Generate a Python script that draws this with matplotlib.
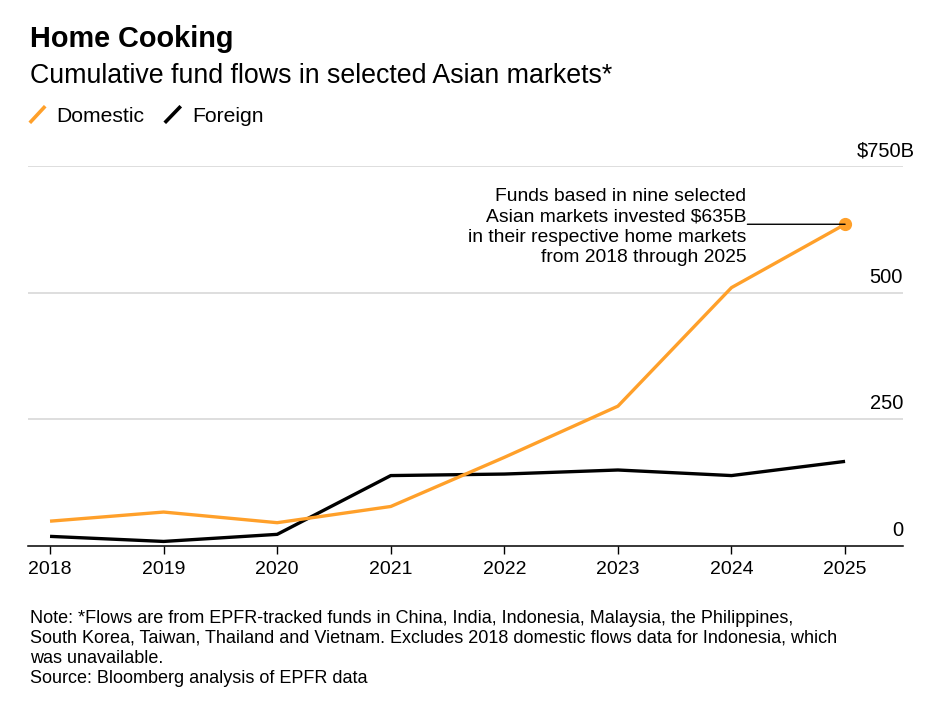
import matplotlib
matplotlib.use("Agg")
import matplotlib.pyplot as plt
from matplotlib.lines import Line2D

plt.rcParams['font.family'] = ['Liberation Sans', 'DejaVu Sans']

years = [2018, 2019, 2020, 2021, 2022, 2023, 2024, 2025]
domestic = [49, 67, 46, 78, 175, 276, 510, 635]
foreign = [19, 9, 23, 139, 142, 150, 139, 167]
y_ticks = [0, 250, 500, 750]
y_labels = ["0", "250", "500", "$750B"]

ORANGE = "#FFA02A"
W, H = 936, 728
fig = plt.figure(figsize=(W / 100, H / 100), dpi=100)
fig.patch.set_facecolor("white")

ax = fig.add_axes([28 / W, 1 - 546 / H, 875 / W, (546 - 166) / H])
ax.set_xlim(2017.806, 2025.51)
ax.set_ylim(0, 750)

for v in y_ticks[1:]:
    ax.axhline(v, color="#d4d4d4", lw=1.1, zorder=1)

ax.plot(years, foreign, color="black", lw=2.4, zorder=3, solid_capstyle="butt")
ax.plot(years, domestic, color=ORANGE, lw=2.4, zorder=4, solid_capstyle="butt")
ax.plot([years[-1]], [domestic[-1]], "o", color=ORANGE, ms=8.5, zorder=5)

for s in ["top", "right", "left"]:
    ax.spines[s].set_visible(False)
ax.spines["bottom"].set_color("black")
ax.spines["bottom"].set_linewidth(1.1)
ax.spines["bottom"].set_zorder(2)

ax.set_xticks(years)
ax.set_xticklabels([str(y) for y in years])
ax.tick_params(axis="x", length=6, width=1, color="black", pad=4.5,
               labelsize=14, labelcolor="black")
ax.set_yticks([])

for v, lab in zip(y_ticks, y_labels):
    dx = 8.5 if lab.startswith("$") else 0
    ax.annotate(lab, xy=(1, v), xycoords=ax.get_yaxis_transform(),
                xytext=(dx, 7.2), textcoords="offset points",
                ha="right", va="baseline", fontsize=14.5, color="black")

# annotation text and connector
ax.annotate("Funds based in nine selected\nAsian markets invested $635B\n"
            "in their respective home markets\nfrom 2018 through 2025",
            xy=(2024.13, domestic[-1] - 6), ha="right", va="center",
            fontsize=13.9, linespacing=1.26, zorder=6)
ax.annotate("", xy=(years[-1], domestic[-1]), xytext=(2024.14, domestic[-1]),
            arrowprops=dict(arrowstyle="-", color="black", lw=1,
                            shrinkA=0, shrinkB=0), zorder=6)

def fy(px):
    return 1 - px / H

fig.text(30 / W, fy(47), "Home Cooking", fontsize=20.8, fontweight="bold",
         va="baseline", ha="left")
fig.text(30 / W, fy(83), "Cumulative fund flows in selected Asian markets*",
         fontsize=19.25, va="baseline", ha="left")

fig.add_artist(Line2D([31 / W, 44 / W], [fy(121.5), fy(107.5)],
                      color=ORANGE, lw=2.6, transform=fig.transFigure))
fig.add_artist(Line2D([166 / W, 179.5 / W], [fy(121.5), fy(107.5)],
                      color="black", lw=2.6, transform=fig.transFigure))
fig.text(56.5 / W, fy(121.7), "Domestic", fontsize=15.2, va="baseline", ha="left")
fig.text(192 / W, fy(121.7), "Foreign", fontsize=15.2, va="baseline", ha="left")

note = ("Note: *Flows are from EPFR-tracked funds in China, India, Indonesia, Malaysia, the Philippines,\n"
        "South Korea, Taiwan, Thailand and Vietnam. Excludes 2018 domestic flows data for Indonesia, which\n"
        "was unavailable.\n"
        "Source: Bloomberg analysis of EPFR data")
fig.text(30 / W, fy(610), note, fontsize=13.0, va="top", ha="left",
         linespacing=1.22)

fig.savefig("out.png", dpi=100, facecolor="white")
